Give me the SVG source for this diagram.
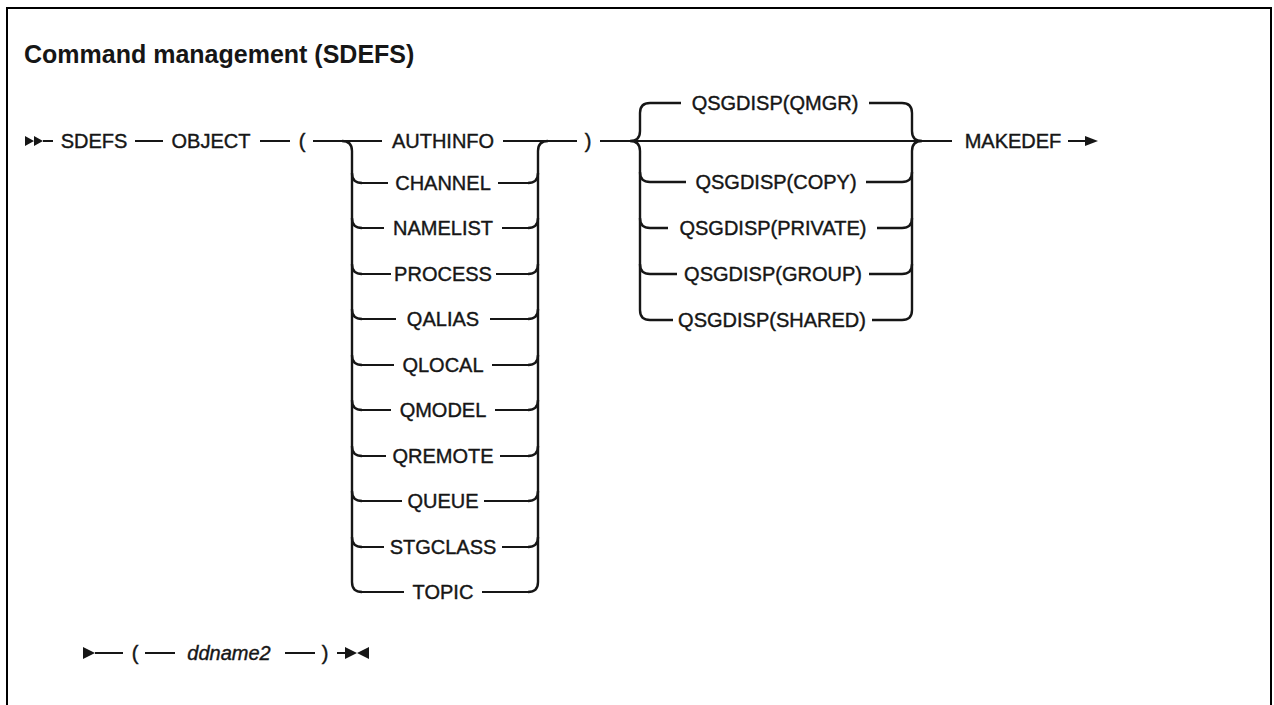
<svg xmlns="http://www.w3.org/2000/svg" width="1274" height="705" viewBox="0 0 1274 705">
<style>
.t{font-family:"Liberation Sans",Arial,sans-serif;font-size:20px;fill:#161616;stroke:#161616;stroke-width:0.4;text-anchor:middle}
.ti{font-family:"Liberation Sans",Arial,sans-serif;font-size:25px;font-weight:bold;fill:#161616}
.it{font-style:italic}
.ln{fill:none;stroke:#161616;stroke-width:2}
.br{fill:none;stroke:#161616;stroke-width:2.4}
.ah{fill:#161616;stroke:none}
</style>
<rect x="0" y="0" width="1274" height="705" fill="#ffffff"/>
<path d="M7,706 V8 H1271 V706" fill="none" stroke="#000" stroke-width="2"/>
<text class="ti" x="24" y="63">Command management (SDEFS)</text>

<g id="connectors">
  <path class="ah" d="M25,136 L34,141 L25,146 Z M34,136 L43,141 L34,146 Z"/>
  <path class="ln" d="M43,141 H53 M135,141 H163 M260,141 H290 M313,141 H382 M503,141 H577 M600,141 H952 M1068,141 H1086"/>
  <path class="ah" d="M1085,136 L1098,141 L1085,146 Z"/>
  <path class="br" d="M342,141 Q352,141 352,151 V582 Q352,592 362,592"/>
  <path class="br" d="M528,592 Q538,592 538,582 V151 Q538,141 548,141"/>
  <path class="br" d="M352,173 Q352,183 362,183 M352,218 Q352,228 362,228 M352,264 Q352,274 362,274 M352,309 Q352,319 362,319 M352,355 Q352,365 362,365 M352,400 Q352,410 362,410 M352,446 Q352,456 362,456 M352,491 Q352,501 362,501 M352,537 Q352,547 362,547"/>
  <path class="br" d="M528,183 Q538,183 538,173 M528,228 Q538,228 538,218 M528,274 Q538,274 538,264 M528,319 Q538,319 538,309 M528,365 Q538,365 538,355 M528,410 Q538,410 538,400 M528,456 Q538,456 538,446 M528,501 Q538,501 538,491 M528,547 Q538,547 538,537"/>
  <path class="ln" d="M362,183 H388 M498,183 H528 M362,228 H384 M502,228 H528 M362,274 H391 M496,274 H528 M362,319 H396 M490,319 H528 M362,365 H394 M492,365 H528 M362,410 H391 M495,410 H528 M362,456 H386 M500,456 H528 M362,501 H402 M484,501 H528 M362,547 H384 M502,547 H528 M362,592 H404 M482,592 H528"/>
  <path class="br" d="M630,141 Q640,141 640,131 V113 Q640,103 650,103 H681 M630,141 Q640,141 640,151 V310 Q640,320 650,320 H673"/>
  <path class="br" d="M869,103 H902 Q912,103 912,113 V131 Q912,141 922,141 M922,141 Q912,141 912,151 V310 Q912,320 902,320 H872"/>
  <path class="br" d="M640,172 Q640,182 650,182 H686 M640,218 Q640,228 650,228 H668 M640,264 Q640,274 650,274 H677"/>
  <path class="br" d="M866,182 H902 Q912,182 912,172 M877,228 H902 Q912,228 912,218 M869,274 H902 Q912,274 912,264"/>
  <path class="ah" d="M83,647 L95,653 L83,659 Z"/>
  <path class="ln" d="M95,653 H123 M145,653 H175 M285,653 H315 M337,653 H348"/>
  <path class="ah" d="M345,647 L357,653 L345,659 Z M369,647 L357,653 L369,659 Z"/>
</g>

<g id="node-sdefs"><text class="t" x="94" y="148">SDEFS</text></g>
<g id="node-object"><text class="t" x="211" y="148">OBJECT</text></g>
<g id="node-lparen"><text class="t" x="302" y="148">(</text></g>
<g id="node-authinfo"><text class="t" x="443" y="148">AUTHINFO</text></g>
<g id="node-channel"><text class="t" x="443" y="190">CHANNEL</text></g>
<g id="node-namelist"><text class="t" x="443" y="235">NAMELIST</text></g>
<g id="node-process"><text class="t" x="443" y="281">PROCESS</text></g>
<g id="node-qalias"><text class="t" x="443" y="326">QALIAS</text></g>
<g id="node-qlocal"><text class="t" x="443" y="372">QLOCAL</text></g>
<g id="node-qmodel"><text class="t" x="443" y="417">QMODEL</text></g>
<g id="node-qremote"><text class="t" x="443" y="463">QREMOTE</text></g>
<g id="node-queue"><text class="t" x="443" y="508">QUEUE</text></g>
<g id="node-stgclass"><text class="t" x="443" y="554">STGCLASS</text></g>
<g id="node-topic"><text class="t" x="443" y="599">TOPIC</text></g>
<g id="node-rparen"><text class="t" x="588" y="148">)</text></g>
<g id="node-qmgr"><text class="t" x="775" y="110">QSGDISP(QMGR)</text></g>
<g id="node-copy"><text class="t" x="776" y="189">QSGDISP(COPY)</text></g>
<g id="node-private"><text class="t" x="773" y="235">QSGDISP(PRIVATE)</text></g>
<g id="node-group"><text class="t" x="773" y="281">QSGDISP(GROUP)</text></g>
<g id="node-shared"><text class="t" x="772" y="327">QSGDISP(SHARED)</text></g>
<g id="node-makedef"><text class="t" x="1013" y="148">MAKEDEF</text></g>
<g id="node-lparen2"><text class="t" x="135" y="660">(</text></g>
<g id="node-ddname2"><text class="t it" x="229" y="660">ddname2</text></g>
<g id="node-rparen2"><text class="t" x="325" y="660">)</text></g>
</svg>
